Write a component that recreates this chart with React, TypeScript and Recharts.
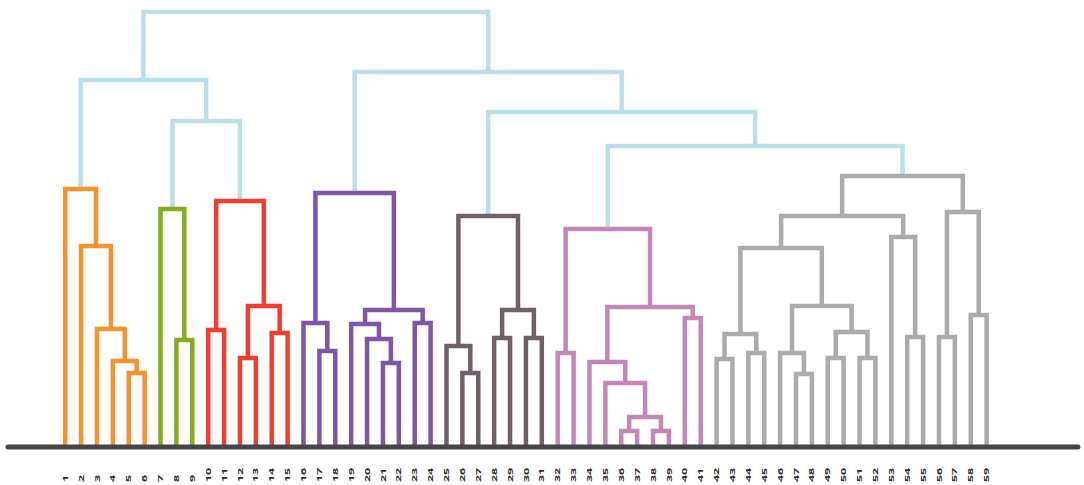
import { LineChart, Line, XAxis, YAxis, ReferenceLine } from 'recharts'

// leaf labels along the bottom
const leafLabels = [
  '1', '2', '3', '4', '5', '6', '7', '8', '9', '10',
  '11', '12', '13', '14', '15', '16', '17', '18', '19', '20',
  '21', '22', '23', '24', '25', '26', '27', '28', '29', '30',
  '31', '32', '33', '34', '35', '36', '37', '38', '39', '40',
  '41', '42', '43', '44', '45', '46', '47', '48', '49', '50',
  '51', '52', '53', '54', '55', '56', '57', '58', '59',
]

// merges: [node id, left child, right child, merge height]
// numbers are leaves, strings are earlier merges
type Merge = [string, number | string, number | string, number]

const orangeMerges: Merge[] = [
  ['o5', 5, 6, 74],
  ['o4', 4, 'o5', 86],
  ['o3', 3, 'o4', 118],
  ['o2', 2, 'o3', 201],
  ['o1', 1, 'o2', 258],
]

const greenMerges: Merge[] = [
  ['g2', 8, 9, 107],
  ['g1', 7, 'g2', 238],
]

const redMerges: Merge[] = [
  ['r2', 10, 11, 117],
  ['r4', 12, 13, 89],
  ['r5', 14, 15, 114],
  ['r3', 'r4', 'r5', 141],
  ['r1', 'r2', 'r3', 246],
]

const purpleMerges: Merge[] = [
  ['p3', 17, 18, 96],
  ['p2', 16, 'p3', 124],
  ['p7', 21, 22, 84],
  ['p6', 20, 'p7', 108],
  ['p5', 19, 'p6', 123],
  ['p8', 23, 24, 124],
  ['p4', 'p5', 'p8', 137],
  ['p1', 'p2', 'p4', 254],
]

const brownMerges: Merge[] = [
  ['k3', 26, 27, 74],
  ['k2', 25, 'k3', 101],
  ['k5', 28, 29, 109],
  ['k6', 30, 31, 109],
  ['k4', 'k5', 'k6', 137],
  ['k1', 'k2', 'k4', 231],
]

const pinkMerges: Merge[] = [
  ['m2', 32, 33, 94],
  ['m6', 36, 37, 16],
  ['m7', 38, 39, 16],
  ['m5', 'm6', 'm7', 30],
  ['m4', 35, 'm5', 64],
  ['m3', 34, 'm4', 85],
  ['m8', 40, 41, 129],
  ['m9', 'm3', 'm8', 140],
  ['m1', 'm2', 'm9', 218],
]

const grayMerges: Merge[] = [
  ['s1', 42, 43, 88],
  ['s2', 44, 45, 94],
  ['s3', 's1', 's2', 113],
  ['s4', 47, 48, 73],
  ['s5', 46, 's4', 94],
  ['s6', 49, 50, 89],
  ['s7', 51, 52, 89],
  ['s8', 's6', 's7', 115],
  ['s9', 's5', 's8', 141],
  ['s10', 's3', 's9', 199],
  ['s11', 54, 55, 110],
  ['s12', 53, 's11', 210],
  ['s13', 's10', 's12', 231],
  ['s14', 56, 57, 110],
  ['s15', 58, 59, 132],
  ['s16', 's14', 's15', 235],
  ['s17', 's13', 's16', 271],
]

const topMerges: Merge[] = [
  ['b4', 'm1', 's17', 301],
  ['b3', 'k1', 'b4', 335],
  ['b2', 'p1', 'b3', 375],
  ['b6', 'g1', 'r1', 326],
  ['b5', 'o1', 'b6', 367],
  ['b0', 'b5', 'b2', 435],
]

const groups: { merges: Merge[]; color: string }[] = [
  { merges: orangeMerges, color: '#F7932D' },
  { merges: greenMerges, color: '#85AD1B' },
  { merges: redMerges, color: '#F43E2D' },
  { merges: purpleMerges, color: '#7E56A8' },
  { merges: brownMerges, color: '#6E6266' },
  { merges: pinkMerges, color: '#C486B5' },
  { merges: grayMerges, color: '#ABABAB' },
]
const topColor = '#BBDFE6'

const nodes: Record<string, { x: number; h: number }> = {}
const pos = (ref: number | string) => (typeof ref === 'number' ? { x: ref, h: 0 } : nodes[ref])

function buildLinks(merges: Merge[]) {
  return merges.map(([id, a, b, h]) => {
    const l = pos(a)
    const r = pos(b)
    nodes[id] = { x: (l.x + r.x) / 2, h }
    return {
      id,
      points: [
        { x: l.x, y: l.h },
        { x: l.x, y: h },
        { x: r.x, y: h },
        { x: r.x, y: r.h },
      ],
    }
  })
}

const clusterLinks = groups.map(g => ({ color: g.color, links: buildLinks(g.merges) }))
const topLinks = buildLinks(topMerges)
const leafTicks = leafLabels.map((_, i) => i + 1)

function LeafTick(props: any) {
  const { x, y, payload } = props
  return (
    <text
      transform={`translate(${x},${y + 35}) rotate(-90) scale(1.55,0.8)`}
      textAnchor="start"
      dominantBaseline="central"
      fontSize={8}
      fontWeight={700}
      fontFamily="'Open Sans', sans-serif"
      fill="#2b2b2b"
    >
      {leafLabels[payload.value - 1]}
    </text>
  )
}

export default function App() {
  const renderLink = (pts: { x: number; y: number }[], key: string, color: string) => (
    <Line
      key={key}
      data={pts}
      dataKey="y"
      type="linear"
      stroke={color}
      strokeWidth={4.5}
      strokeLinejoin="miter"
      dot={false}
      activeDot={false}
      isAnimationActive={false}
    />
  )

  return (
    <div style={{ position: 'absolute', left: 0, top: 0, background: '#fff' }}>
      <LineChart width={1084} height={485} margin={{ top: 7, right: 6, bottom: 0, left: 8 }}>
        <XAxis
          type="number"
          dataKey="x"
          domain={[-2.6, 64.75]}
          ticks={leafTicks}
          interval={0}
          axisLine={false}
          tickLine={false}
          tickSize={0}
          tickMargin={0}
          height={38}
          tick={<LeafTick />}
        />
        <YAxis type="number" domain={[0, 440]} hide />
        {topLinks.map(l => renderLink(l.points, l.id, topColor))}
        {clusterLinks.map(c => c.links.map(l => renderLink(l.points, l.id, c.color)))}
        <ReferenceLine y={0} stroke="#454545" strokeWidth={5} strokeLinecap="round" />
      </LineChart>
    </div>
  )
}
